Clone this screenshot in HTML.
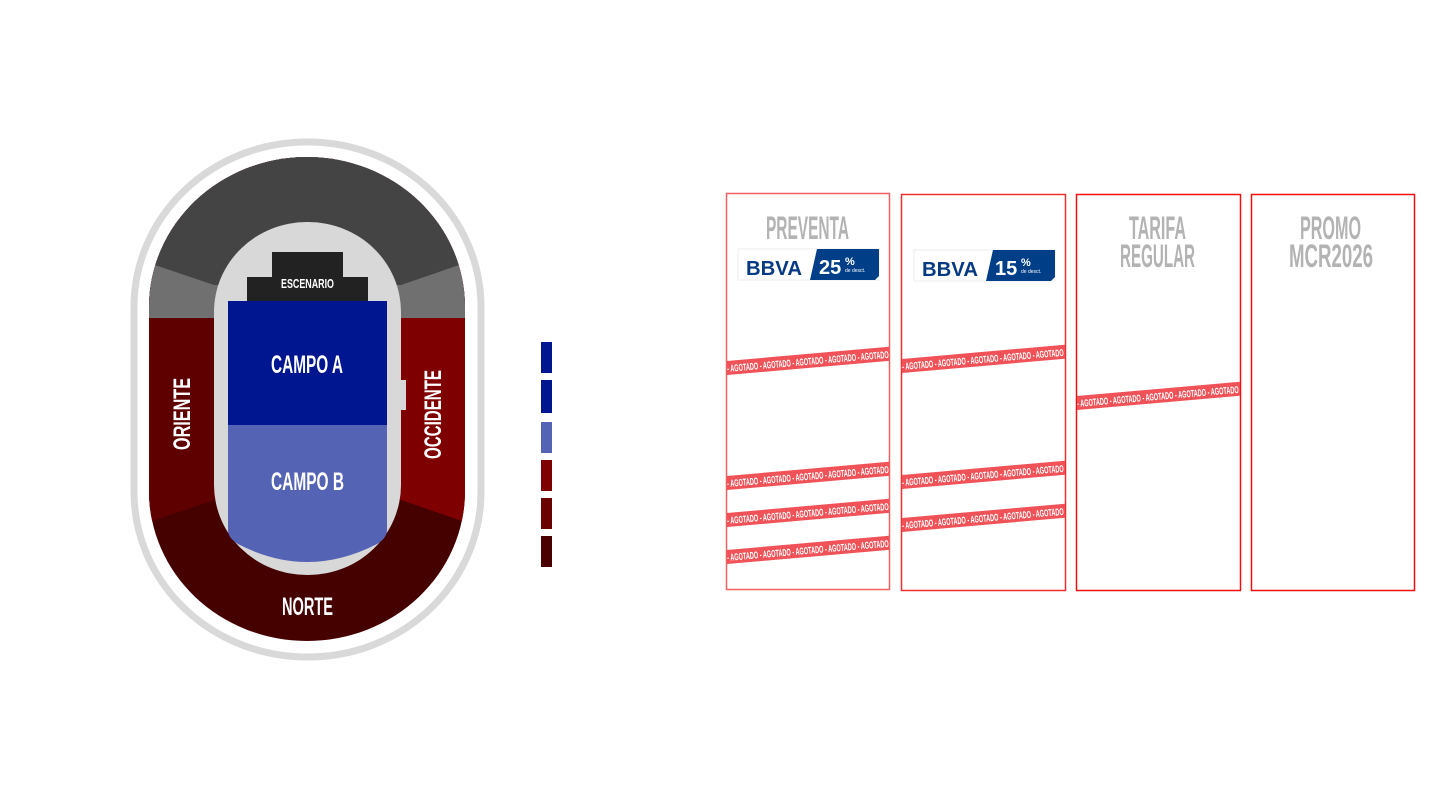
<!DOCTYPE html>
<html><head><meta charset="utf-8"><style>
html,body{margin:0;padding:0;background:#fff;width:1440px;height:811px;overflow:hidden}
svg{display:block}
.c{font-family:"Liberation Sans",sans-serif;font-weight:bold}
</style></head><body>
<svg width="1440" height="811" viewBox="0 0 1440 811" xmlns="http://www.w3.org/2000/svg">
<defs>
<clipPath id="st"><rect x="149" y="157" width="316" height="484" rx="158" ry="150"/></clipPath>
<clipPath id="k1"><rect x="727" y="194" width="162" height="396"/></clipPath>
<clipPath id="k2"><rect x="902" y="195" width="163" height="396"/></clipPath>
<clipPath id="k3"><rect x="1077" y="195" width="163" height="396"/></clipPath>
<g id="band">
<rect x="-10" y="-7" width="190" height="14" fill="#f05258"/>
<text x="0" y="4" class="c" font-size="10" fill="#fff" textLength="195" lengthAdjust="spacingAndGlyphs">- AGOTADO - AGOTADO - AGOTADO - AGOTADO - AGOTADO - AGOTADO</text>
</g>
</defs>
<!-- stadium -->
<rect x="134" y="142" width="347" height="515" rx="173" ry="165" fill="none" stroke="#d9d9d9" stroke-width="7"/>
<g clip-path="url(#st)">
<rect x="149" y="157" width="316" height="484" fill="#450000"/>
<polygon points="149,157 465,157 465,522 401,500 214,500 149,522" fill="#7f0000"/>
<polygon points="149,157 307,157 307,500 214,500 149,522" fill="#5e0000"/>
<rect x="149" y="157" width="316" height="161" fill="#707070"/>
<polygon points="149,157 465,157 465,263 401,285 214,285 149,263" fill="#444"/>
</g>
<rect x="214" y="222" width="187" height="353" rx="93" ry="90" fill="#d8d8d8"/>
<rect x="396" y="380" width="10" height="30" fill="#d8d8d8"/>
<rect x="272" y="252" width="71" height="30" fill="#222"/>
<rect x="247" y="277" width="121" height="25" fill="#222"/>
<text x="281" y="288" class="c" font-size="13" fill="#fff" textLength="53" lengthAdjust="spacingAndGlyphs">ESCENARIO</text>
<rect x="228" y="301" width="159" height="124" fill="#001590"/>
<path d="M228,425 H387 V530 Q387,538 377,544 Q307,580 238,544 Q228,538 228,530 Z" fill="#5563b5"/>
<text x="271" y="373" class="c" font-size="25" fill="#fff" textLength="72" lengthAdjust="spacingAndGlyphs">CAMPO A</text>
<text x="271" y="490" class="c" font-size="25" fill="#fff" textLength="73" lengthAdjust="spacingAndGlyphs">CAMPO B</text>
<text x="282" y="615" class="c" font-size="25" fill="#fff" textLength="51" lengthAdjust="spacingAndGlyphs">NORTE</text>
<text class="c" font-size="24" fill="#fff" transform="translate(190,450) rotate(-90)" textLength="72" lengthAdjust="spacingAndGlyphs">ORIENTE</text>
<text class="c" font-size="24" fill="#fff" transform="translate(441,459) rotate(-90)" textLength="89" lengthAdjust="spacingAndGlyphs">OCCIDENTE</text>
<!-- legend -->
<rect x="541" y="342" width="11" height="31" fill="#001590"/>
<rect x="541" y="380" width="11" height="33" fill="#001590"/>
<rect x="541" y="422" width="11" height="31" fill="#5563b5"/>
<rect x="541" y="460" width="11" height="31" fill="#7f0000"/>
<rect x="541" y="498" width="11" height="31" fill="#6a0000"/>
<rect x="541" y="536" width="11" height="31" fill="#4a0000"/>
<!-- cards -->
<rect x="726.5" y="193.5" width="163" height="396" fill="none" stroke="#f36060" stroke-width="1.5"/>
<rect x="901.5" y="194.5" width="164" height="396" fill="none" stroke="#f03030" stroke-width="1.5"/>
<rect x="1076.5" y="194.5" width="164" height="396" fill="none" stroke="#f01010" stroke-width="1.5"/>
<rect x="1251.5" y="194.5" width="163" height="396" fill="none" stroke="#f01010" stroke-width="1.5"/>
<text x="766" y="239" class="c" font-size="32" fill="#b3b3b3" textLength="83" lengthAdjust="spacingAndGlyphs">PREVENTA</text>
<text x="1129" y="239" class="c" font-size="32" fill="#b3b3b3" textLength="57" lengthAdjust="spacingAndGlyphs">TARIFA</text>
<text x="1120" y="267" class="c" font-size="32" fill="#b3b3b3" textLength="75" lengthAdjust="spacingAndGlyphs">REGULAR</text>
<text x="1300" y="239" class="c" font-size="32" fill="#b3b3b3" textLength="61" lengthAdjust="spacingAndGlyphs">PROMO</text>
<text x="1289" y="267" class="c" font-size="32" fill="#b3b3b3" textLength="84" lengthAdjust="spacingAndGlyphs">MCR2026</text>
<!-- BBVA badges -->
<g>
<rect x="738" y="249" width="141" height="31" fill="#fff" stroke="#eee"/>
<polygon points="817,249 879,249 879,276 875,280 810,280" fill="#003f87"/>
<text x="746" y="275" class="c" font-size="20" fill="#073a82" textLength="56" lengthAdjust="spacingAndGlyphs">BBVA</text>
<text x="819" y="274" class="c" font-size="20" fill="#fff">25</text>
<text x="845" y="265" class="c" font-size="11" fill="#fff">%</text>
<text x="845" y="272" font-family="Liberation Sans,sans-serif" font-size="5" fill="#fff">de desct.</text>
</g>
<g>
<rect x="914" y="250" width="141" height="31" fill="#fff" stroke="#eee"/>
<polygon points="993,250 1055,250 1055,277 1051,281 986,281" fill="#003f87"/>
<text x="922" y="276" class="c" font-size="20" fill="#073a82" textLength="56" lengthAdjust="spacingAndGlyphs">BBVA</text>
<text x="995" y="275" class="c" font-size="20" fill="#fff">15</text>
<text x="1021" y="266" class="c" font-size="11" fill="#fff">%</text>
<text x="1021" y="273" font-family="Liberation Sans,sans-serif" font-size="5" fill="#fff">de desct.</text>
</g>
<!-- bands -->
<g clip-path="url(#k1)">
<use href="#band" transform="translate(727,368) rotate(-5)"/>
<use href="#band" transform="translate(727,483) rotate(-5)"/>
<use href="#band" transform="translate(727,520) rotate(-5)"/>
<use href="#band" transform="translate(727,557) rotate(-5)"/>
</g>
<g clip-path="url(#k2)">
<use href="#band" transform="translate(902,366) rotate(-5)"/>
<use href="#band" transform="translate(902,482) rotate(-5)"/>
<use href="#band" transform="translate(902,525) rotate(-5)"/>
</g>
<g clip-path="url(#k3)">
<use href="#band" transform="translate(1077,403) rotate(-5)"/>
</g>
</svg>
</body></html>
